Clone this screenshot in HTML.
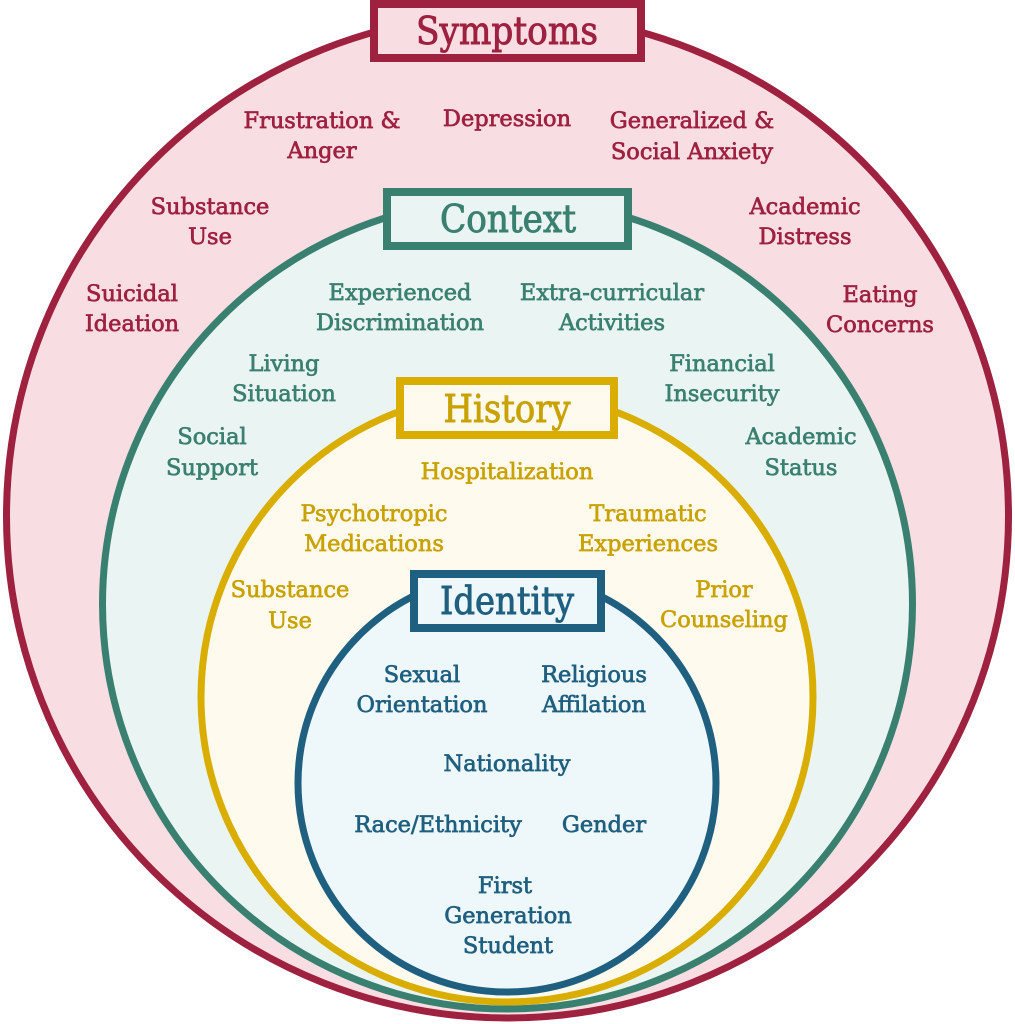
<!DOCTYPE html>
<html><head><meta charset="utf-8"><style>
html,body{margin:0;padding:0;background:#fff;}
svg{display:block}
text{font-family:"DejaVu Serif","Liberation Serif",serif;font-size:22.5px;text-anchor:middle;dominant-baseline:central;stroke-width:0.7px;}
.r{fill:#9e2140;stroke:#9e2140}.g{fill:#3a8070;stroke:#3a8070}.y{fill:#c9a200;stroke:#c9a200}.b{fill:#1f5f7f;stroke:#1f5f7f}
.t{font-size:38px;stroke-width:0.9px}
</style></head><body>
<svg width="1015" height="1024" viewBox="0 0 1015 1024" xmlns="http://www.w3.org/2000/svg">
<ellipse cx="507.5" cy="516" rx="501" ry="502" fill="#f8dde2" stroke="#9e2140" stroke-width="7"/>
<circle cx="507.5" cy="604" r="405" fill="#eaf4f2" stroke="#3a8070" stroke-width="7"/>
<ellipse cx="507" cy="697" rx="306" ry="305" fill="#fefaee" stroke="#d9ae00" stroke-width="7"/>
<circle cx="507" cy="783" r="209" fill="#eef7fa" stroke="#1f5f7f" stroke-width="7"/>

<rect x="374" y="4" width="267" height="54" fill="#f8dde2" stroke="#9e2140" stroke-width="8"/>
<rect x="387" y="192" width="241" height="54" fill="#eaf4f2" stroke="#3a8070" stroke-width="8"/>
<rect x="400" y="381" width="214" height="54" fill="#fefaee" stroke="#d9ae00" stroke-width="8"/>
<rect x="414" y="574" width="187" height="54" fill="#eef7fa" stroke="#1f5f7f" stroke-width="8"/>

<text class="r t" x="507" y="31" textLength="182" lengthAdjust="spacingAndGlyphs">Symptoms</text>
<text class="g t" x="508" y="219" textLength="136" lengthAdjust="spacingAndGlyphs">Context</text>
<text class="y t" x="507" y="409" textLength="127" lengthAdjust="spacingAndGlyphs">History</text>
<text class="b t" x="507" y="601" textLength="134" lengthAdjust="spacingAndGlyphs">Identity</text>

<text class="r" x="322" y="121">Frustration &amp;</text><text class="r" x="322" y="151">Anger</text>
<text class="r" x="507" y="119">Depression</text>
<text class="r" x="692" y="121">Generalized &amp;</text><text class="r" x="692" y="152">Social Anxiety</text>
<text class="r" x="210" y="207">Substance</text><text class="r" x="210" y="237">Use</text>
<text class="r" x="805" y="207">Academic</text><text class="r" x="805" y="237">Distress</text>
<text class="r" x="132" y="294">Suicidal</text><text class="r" x="132" y="324">Ideation</text>
<text class="r" x="880" y="295">Eating</text><text class="r" x="880" y="325">Concerns</text>

<text class="g" x="400" y="293">Experienced</text><text class="g" x="400" y="323">Discrimination</text>
<text class="g" x="612" y="293">Extra-curricular</text><text class="g" x="612" y="323">Activities</text>
<text class="g" x="284" y="364">Living</text><text class="g" x="284" y="394">Situation</text>
<text class="g" x="722" y="364">Financial</text><text class="g" x="722" y="394">Insecurity</text>
<text class="g" x="212" y="437">Social</text><text class="g" x="212" y="468">Support</text>
<text class="g" x="801" y="437">Academic</text><text class="g" x="801" y="468">Status</text>

<text class="y" x="507" y="472">Hospitalization</text>
<text class="y" x="374" y="514">Psychotropic</text><text class="y" x="374" y="544">Medications</text>
<text class="y" x="648" y="514">Traumatic</text><text class="y" x="648" y="544">Experiences</text>
<text class="y" x="290" y="590">Substance</text><text class="y" x="290" y="621">Use</text>
<text class="y" x="724" y="590">Prior</text><text class="y" x="724" y="620">Counseling</text>

<text class="b" x="422" y="675">Sexual</text><text class="b" x="422" y="705">Orientation</text>
<text class="b" x="594" y="675">Religious</text><text class="b" x="594" y="705">Affilation</text>
<text class="b" x="507" y="764">Nationality</text>
<text class="b" x="438" y="825">Race/Ethnicity</text>
<text class="b" x="604" y="825">Gender</text>
<text class="b" x="505" y="886">First</text><text class="b" x="508" y="916">Generation</text><text class="b" x="508" y="946">Student</text>
</svg>
</body></html>
